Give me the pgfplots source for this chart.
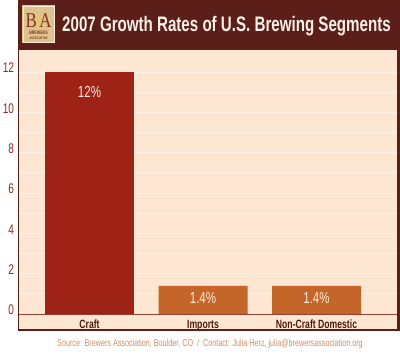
\documentclass[border=0pt]{standalone}
\usepackage{fontspec}
\setmainfont{Liberation Sans}
\newfontfamily\cond{Liberation Sans}[FakeStretch=0.72]
\newfontfamily\condser{Liberation Serif}[FakeStretch=0.8]
\usepackage{pgfplots}
\pgfplotsset{compat=1.18}
\definecolor{brownc}{RGB}{92,30,24}
\definecolor{creamc}{RGB}{253,231,210}
\definecolor{gridc}{RGB}{255,243,232}
\definecolor{craftc}{RGB}{158,34,22}
\definecolor{otherc}{RGB}{196,102,42}
\definecolor{xlinec}{RGB}{150,62,50}
\definecolor{ytickc}{RGB}{140,42,40}
\definecolor{xlabc}{RGB}{78,26,16}
\definecolor{srcc}{RGB}{216,140,92}
\definecolor{titlec}{RGB}{250,241,232}
\definecolor{barlabc}{RGB}{252,236,222}
\definecolor{logoc}{RGB}{224,194,142}
\definecolor{logotxt}{RGB}{130,55,28}
\definecolor{goldc}{RGB}{240,200,90}
\begin{document}
\begin{tikzpicture}[x=1pt,y=1pt]
\useasboundingbox (-19,-40) rectangle (381,314);
% frame and background
\fill[brownc] (-1,-17) rectangle (381,314);
\fill[creamc] (0,-15) rectangle (378,264);
% logo
\fill[logoc] (3,271) rectangle (36,309);
\draw[white!70!logoc, line width=0.6pt] (4,272) rectangle (35,308);
\node[inner sep=0, anchor=base, text=logotxt, font=\condser\fontsize{21}{21}\selectfont] at (19.5,286) {B\textcolor{goldc}{\rule{2.5pt}{13pt}}A};
\node[inner sep=0, anchor=base, text=logotxt, font=\cond\bfseries\fontsize{5}{5}\selectfont] at (19.5,279) {BREWERS};
\node[inner sep=0, anchor=base, text=logotxt, font=\cond\bfseries\fontsize{3.6}{3.6}\selectfont] at (19.5,274.5) {ASSOCIATION};
% title
\node[anchor=base west, inner sep=0, text=titlec, font=\cond\bfseries\fontsize{21}{21}\selectfont] at (43,282) {2007 Growth Rates of U.S. Brewing Segments};
\begin{axis}[
  at={(0,0)}, anchor=south west,
  scale only axis, width=378pt, height=264pt,
  xmin=-0.621, xmax=2.709, ymin=0, ymax=13.09,
  ybar, bar width=89pt,
  axis line style={draw=none},
  tick style={draw=none},
  xtick={0,1,2},
  xticklabels={Craft,Imports,Non-Craft Domestic},
  xticklabel style={font=\cond\bfseries\fontsize{12}{12}\selectfont, text=xlabc, anchor=base, inner sep=0pt, yshift=-10pt},
  ytick={0,2,...,12},
  minor ytick={1,3,...,11},
  ymajorgrids, yminorgrids,
  major grid style={draw=gridc, line width=0.8pt},
  minor grid style={draw=gridc, line width=0.8pt},
  /pgf/number format/assume math mode=true,
  yticklabel style={font=\cond\fontsize{14}{14}\selectfont, text=ytickc, yshift=4pt, xshift=-1.5pt},
  clip=false,
]
\addplot[fill=craftc, draw=none, bar shift=0pt,
  nodes near coords={\pgfmathprintnumber{\pgfplotspointmeta}\%},
  every node near coord/.style={anchor=north, yshift=-11pt, font=\cond\fontsize{16}{16}\selectfont, text=barlabc}]
  coordinates {(0,12)};
\addplot[fill=otherc, draw=none, bar shift=0pt,
  nodes near coords={\pgfmathprintnumber{\pgfplotspointmeta}\%},
  every node near coord/.style={anchor=north, yshift=-3.5pt, font=\cond\fontsize{16}{16}\selectfont, text=barlabc}]
  coordinates {(1,1.4) (2,1.4)};
\end{axis}
\draw[xlinec, line width=0.8pt] (0,0) -- (378,0);
\node[anchor=base, inner sep=0, text=srcc, font=\cond\fontsize{10}{10}\selectfont] at (191,-33) {Source: Brewers Association, Boulder, CO \ / \ Contact: Julia Herz, julia@brewersassociation.org};
\end{tikzpicture}
\end{document}
